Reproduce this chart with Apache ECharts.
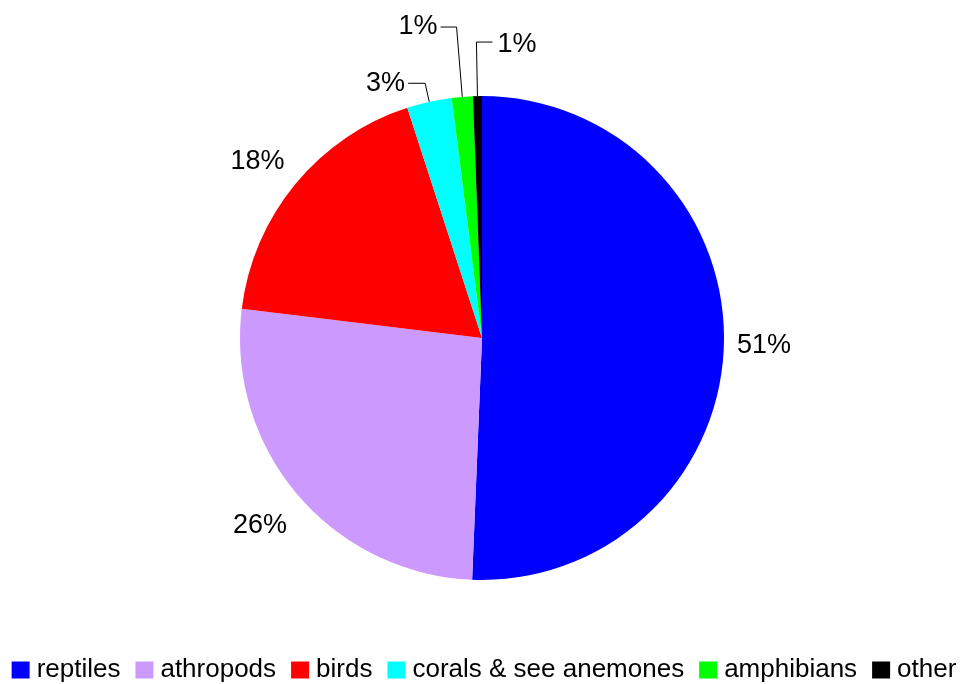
<!DOCTYPE html>
<html>
<head>
<meta charset="utf-8">
<script src="https://cdn.jsdelivr.net/npm/echarts@6/dist/echarts.min.js"></script>
<style>
html,body{margin:0;padding:0;background:#fff;}
#main{width:968px;height:684px;}
</style>
</head>
<body>
<div id="main"></div>
<script>
// 数据
var names = ['reptiles', 'athropods', 'birds', 'corals & see anemones', 'amphibians', 'other'];
var values = [50.7, 26.3, 18.1, 3.0, 1.4, 0.6];
var colors = ['#0000FF', '#CC99FF', '#FF0000', '#00FFFF', '#00FF00', '#000000'];
// 标签引线长度 / 偏移
var lineLen = [10, 10, 10, 19, 70, 54];
var lineLen2 = [0, 0, 0, 17, 16, 16];
var labelDy = [2, 24, -16, 0, 0, 2];

var pieData = [];
for (var i = 0; i < names.length; i++) {
	pieData.push({
		name: names[i],
		value: values[i],
		itemStyle: { color: colors[i] },
		labelLine: { show: lineLen2[i] > 0, length: lineLen[i], length2: lineLen2[i] }
	});
}

var myChart = echarts.init(document.getElementById('main'));
var option = {
	animation: false,
	legend: {
		bottom: -4,
		left: 'center',
		icon: 'rect',
		itemWidth: 18,
		itemHeight: 17,
		itemGap: 15,
		textStyle: { fontFamily: 'Liberation Sans, Arial', fontSize: 26, color: '#000', padding: [0, 0, 0, 2] },
		data: names
	},
	series: [{
		type: 'pie',
		center: [482, 338],
		radius: 242,
		startAngle: 90,
		clockwise: true,
		avoidLabelOverlap: false,
		data: pieData,
		label: {
			show: true,
			position: 'outside',
			fontFamily: 'Liberation Sans, Arial',
			fontSize: 27,
			color: '#000',
			distanceToLabelLine: 3,
			formatter: function(p) {
				return Math.round(p.percent) + '%';
			}
		},
		labelLine: {
			lineStyle: { color: '#000', width: 1 }
		},
		labelLayout: function(params) {
			var i = params.dataIndex;
			// "other" 的引线朝右
			if (i === 5 && params.labelLinePoints) {
				var pts = params.labelLinePoints;
				var p1 = pts[1];
				var p2 = pts[2];
				var nx = 2 * p1[0] - p2[0];
				return {
					x: nx + 5,
					y: p2[1] + labelDy[i],
					align: 'left',
					verticalAlign: 'middle',
					labelLinePoints: [pts[0], p1, [nx, p2[1]]]
				};
			}
			return { dy: labelDy[i] };
		}
	}]
};
myChart.setOption(option);
</script>
</body>
</html>
